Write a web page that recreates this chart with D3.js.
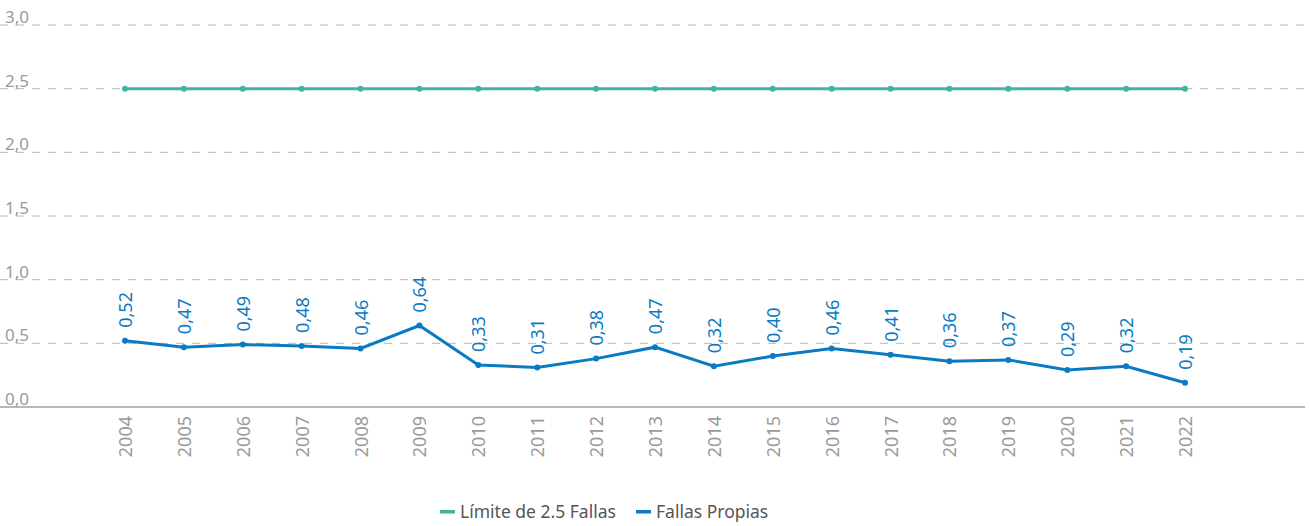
<!DOCTYPE html>
<html>
<head>
<meta charset="utf-8">
<script src="https://cdn.jsdelivr.net/npm/d3@7"></script>
<style>
  body { margin: 0; background: #fff; }
  svg text { font-family: "Noto Sans", "Open Sans", sans-serif; }
</style>
</head>
<body>
<div id="chart"></div>
<script>
// data
const years = ["2004","2005","2006","2007","2008","2009","2010","2011","2012","2013","2014","2015","2016","2017","2018","2019","2020","2021","2022"];
const limite = [2.5,2.5,2.5,2.5,2.5,2.5,2.5,2.5,2.5,2.5,2.5,2.5,2.5,2.5,2.5,2.5,2.5,2.5,2.5];
const propias = [0.52,0.47,0.49,0.48,0.46,0.64,0.33,0.31,0.38,0.47,0.32,0.40,0.46,0.41,0.36,0.37,0.29,0.32,0.19];
const yTicks = [0, 0.5, 1.0, 1.5, 2.0, 2.5, 3.0];
const seriesNames = ["Límite de 2.5 Fallas", "Fallas Propias"];

const width = 1311, height = 526;
const teal = "#3fb5a1", blue = "#0a7bc3";

const svg = d3.select("#chart").append("svg")
  .attr("width", width)
  .attr("height", height);

const x = d3.scalePoint().domain(years).range([125, 1185]);
const y = d3.scaleLinear().domain([0, 3]).range([407, 25]);

const fmt = d => d3.format(".1f")(d).replace(".", ",");

// gridlines
svg.append("g")
  .selectAll("line")
  .data(yTicks.filter(d => d > 0))
  .enter().append("line")
  .attr("x1", 0).attr("x2", 1305)
  .attr("y1", d => y(d)).attr("y2", d => y(d))
  .attr("stroke", "#b8b8b8")
  .attr("stroke-dasharray", "8,8");

// baseline
svg.append("line")
  .attr("x1", 0).attr("x2", 1305)
  .attr("y1", y(0)).attr("y2", y(0))
  .attr("stroke", "#a0a0a0")
  .attr("stroke-width", 1.5);

// y tick labels
svg.append("g")
  .selectAll("text")
  .data(yTicks)
  .enter().append("text")
  .attr("x", 5)
  .attr("y", d => y(d) - 2)
  .attr("font-size", 17)
  .attr("fill", "#9a9a9a")
  .text(fmt);

// x labels (rotated)
svg.append("g")
  .selectAll("text")
  .data(years)
  .enter().append("text")
  .attr("transform", d => `translate(${x(d) + 7},${y(0) + 9}) rotate(-90)`)
  .attr("text-anchor", "end")
  .attr("font-size", 18)
  .attr("fill", "#9a9a9a")
  .text(d => d);

const line = d3.line()
  .x((d, i) => x(years[i]))
  .y(d => y(d));

function drawSeries(values, color) {
  svg.append("path")
    .datum(values)
    .attr("d", line)
    .attr("fill", "none")
    .attr("stroke", color)
    .attr("stroke-width", 3);
  svg.append("g")
    .selectAll("circle")
    .data(values)
    .enter().append("circle")
    .attr("cx", (d, i) => x(years[i]))
    .attr("cy", d => y(d))
    .attr("r", 3)
    .attr("fill", color);
}

drawSeries(limite, teal);
drawSeries(propias, blue);

// value labels for Fallas Propias
svg.append("g")
  .selectAll("text")
  .data(propias)
  .enter().append("text")
  .attr("transform", (d, i) => `translate(${x(years[i]) + 7},${y(d) - 13}) rotate(-90)`)
  .attr("text-anchor", "start")
  .attr("font-size", 18)
  .attr("fill", blue)
  .text(d => d3.format(".2f")(d).replace(".", ","));

// legend
const legend = svg.append("g");
const legendItems = [
  { name: seriesNames[0], color: teal, x: 440 },
  { name: seriesNames[1], color: blue, x: 636 }
];
legendItems.forEach(it => {
  legend.append("rect")
    .attr("x", it.x).attr("y", 510)
    .attr("width", 15).attr("height", 3.5)
    .attr("fill", it.color);
  legend.append("text")
    .attr("x", it.x + 20).attr("y", 518)
    .attr("font-size", 17.5)
    .attr("fill", "#555")
    .text(it.name);
});
</script>
</body>
</html>
